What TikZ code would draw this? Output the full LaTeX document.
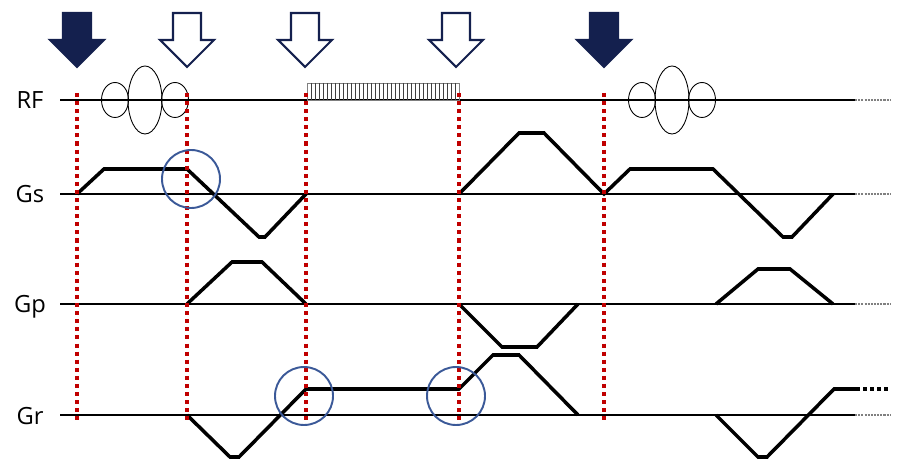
\documentclass[tikz,border=0pt]{standalone}
\usepackage{fontspec}
\setmainfont{Open Sans}
\definecolor{navy}{HTML}{14204E}
\definecolor{markred}{HTML}{C00000}
\definecolor{ringblue}{HTML}{3B5998}
\begin{document}
\begin{tikzpicture}[x=0.02cm, y=-0.02cm,
  baseline/.style={line width=0.8pt},
  fade/.style={gray, line width=0.8pt, dash pattern=on 1.2pt off 0.6pt},
  wave/.style={line width=2pt, line join=miter},
  marker/.style={markred, line width=2.2pt, dash pattern=on 2.3pt off 2.3pt},
  ring/.style={ringblue, line width=1.1pt},
  lobe/.style={line width=0.5pt},
  chan/.style={anchor=base, font=\fontsize{13.5}{15}\selectfont},
  pulsearrow/.style={navy, line width=1.2pt, line join=miter}]
\useasboundingbox (0,0) rectangle (911,472);

% channel labels and axes
\node[chan] (rf) at (30,109) {RF};
\node[chan] (gs) at (30,203) {Gs};
\node[chan] (gp) at (30,313) {Gp};
\node[chan] (gr) at (30,424) {Gr};
\foreach \y in {100,194,304,415} {
  \draw[baseline] (60,\y) -- (855,\y);
  \draw[fade] (855,\y) -- (890,\y);
}

% top arrows
\foreach \x/\f in {77/navy,187/white,305/white,456/white,604/navy}
  \draw[pulsearrow, fill=\f] (\x-14,13) -- (\x+14,13) -- (\x+14,40) -- (\x+27,40)
    -- (\x,67) -- (\x-27,40) -- (\x-14,40) -- cycle;

% RF pulses
\foreach \c in {0,527} {
  \draw[lobe] (115+\c,100) ellipse [x radius=13.5, y radius=17.5];
  \draw[lobe] (145+\c,100) ellipse [x radius=17, y radius=34];
  \draw[lobe] (175+\c,100) ellipse [x radius=13.5, y radius=17.5];
}
\draw[lobe, gray] (307,83) rectangle (459,100);
\foreach \i in {1,...,37}
  \draw[lobe, black!75] (307+4*\i,83) -- (307+4*\i,100);

% gradients
\draw[wave] (77,194) -- (104,169) -- (187,169) -- (259,237) -- (265,237) -- (306,194);
\draw[wave] (459,194) -- (519,133) -- (544,133) -- (604,194) -- (630,169)
  -- (713,169) -- (783,237) -- (792,237) -- (833,194);
\draw[wave] (187,304) -- (232,262) -- (262,262) -- (306,304);
\draw[wave] (459,304) -- (502,347) -- (537,347) -- (578,304);
\draw[wave] (716,304) -- (758,269) -- (790,269) -- (833,304);
\draw[wave] (187,415) -- (230,457) -- (239,457) -- (306,389) -- (459,389)
  -- (493,355) -- (519,355) -- (578,415);
\draw[wave] (716,415) -- (758,457) -- (767,457) -- (834,389) -- (856,389);
\draw[wave, dash pattern=on 2pt off 2pt] (856,389) -- (890,389);

% timing markers
\foreach \x in {77,187,306,459,604}
  \draw[marker] (\x,93) -- (\x,423);

\draw[ring] (191,179) circle [radius=29];
\draw[ring] (304,396) circle [radius=29];
\draw[ring] (456,396) circle [radius=29];
\end{tikzpicture}
\end{document}
